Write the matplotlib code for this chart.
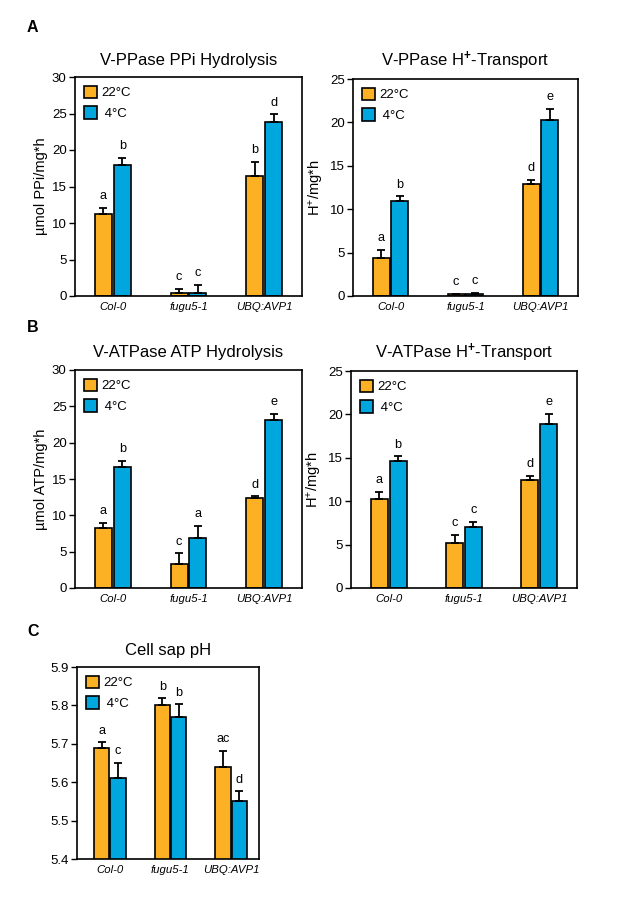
import matplotlib
matplotlib.use("Agg")
import matplotlib.pyplot as plt
import numpy as np
from matplotlib.patches import Patch

plt.rcParams['font.family'] = ['Liberation Sans', 'DejaVu Sans']
plt.rcParams['mathtext.fontset'] = 'custom'
plt.rcParams['mathtext.rm'] = 'Liberation Sans'
plt.rcParams['mathtext.it'] = 'Liberation Sans:italic'
plt.rcParams['mathtext.bf'] = 'Liberation Sans:bold'

categories = ["Col-0", "fugu5-1", "UBQ:AVP1"]
series_names = ["22°C", " 4°C"]

# Panel A left: V-PPase PPi hydrolysis
ppi_22 = [11.3, 0.4, 16.4]
ppi_22_err = [0.8, 0.6, 2.0]
ppi_4 = [17.9, 0.4, 23.8]
ppi_4_err = [1.0, 1.1, 1.1]
ppi_22_let = ["a", "c", "b"]
ppi_4_let = ["b", "c", "d"]

# Panel A right: V-PPase H+ transport
vpp_h_22 = [4.4, 0.2, 12.9]
vpp_h_22_err = [0.9, 0.05, 0.5]
vpp_h_4 = [11.0, 0.27, 20.3]
vpp_h_4_err = [0.5, 0.08, 1.3]
vpp_h_22_let = ["a", "c", "d"]
vpp_h_4_let = ["b", "c", "e"]

# Panel B left: V-ATPase ATP hydrolysis
atp_22 = [8.3, 3.35, 12.45]
atp_22_err = [0.65, 1.45, 0.15]
atp_4 = [16.6, 6.85, 23.1]
atp_4_err = [0.9, 1.75, 0.85]
atp_22_let = ["a", "c", "d"]
atp_4_let = ["b", "a", "e"]

# Panel B right: V-ATPase H+ transport
vat_h_22 = [10.25, 5.2, 12.4]
vat_h_22_err = [0.85, 0.9, 0.5]
vat_h_4 = [14.6, 7.0, 18.9]
vat_h_4_err = [0.6, 0.6, 1.2]
vat_h_22_let = ["a", "c", "d"]
vat_h_4_let = ["b", "c", "e"]

# Panel C: cell sap pH
ph_22 = [5.69, 5.80, 5.64]
ph_22_err = [0.014, 0.018, 0.042]
ph_4 = [5.61, 5.771, 5.55]
ph_4_err = [0.04, 0.032, 0.026]
ph_22_let = ["a", "b", "ac"]
ph_4_let = ["c", "b", "d"]

ORANGE = "#FCB024"
BLUE = "#00A7DF"

fig = plt.figure(figsize=(6.17, 8.99), dpi=100)


def panel(rect, v22, e22, v4, e4, l22, l4, ylim, yticks, title, ylabel,
          xlim=(-0.5, 2.5), width=0.225, off=0.125, ticklabels=None):
    ax = fig.add_axes(rect)
    x = np.arange(len(categories))
    for vals, errs, lets, col, sgn in ((v22, e22, l22, ORANGE, -1),
                                       (v4, e4, l4, BLUE, 1)):
        xs = x + sgn * off
        ax.bar(xs, vals, width=width, color=col, edgecolor='black',
               linewidth=1.2, zorder=2, bottom=0)
        ax.errorbar(xs, vals, yerr=[np.zeros(len(errs)), errs], fmt='none',
                    ecolor='black', elinewidth=1.3, capsize=2.8,
                    capthick=1.3, zorder=3)
        for xi, v, e, t in zip(xs, vals, errs, lets):
            ax.annotate(t, (xi, v + e), xytext=(0, 4), textcoords='offset points',
                        ha='center', va='bottom', fontsize=9.2)
    ax.set_xlim(*xlim)
    ax.set_ylim(*ylim)
    ax.set_yticks(yticks)
    if ticklabels is not None:
        ax.set_yticklabels(ticklabels)
    ax.set_xticks(x)
    ax.set_xticklabels(categories, fontstyle='italic', fontsize=8.2)
    ax.tick_params(axis='x', length=0, pad=4)
    ax.tick_params(axis='y', length=4, width=1, labelsize=9.5, pad=2)
    for s in ax.spines.values():
        s.set_linewidth(1.2)
    ax.set_title(title, fontsize=12, pad=9)
    if ylabel:
        ax.set_ylabel(ylabel, fontsize=10.5, labelpad=3)
    handles = [Patch(facecolor=ORANGE, edgecolor='black', linewidth=1.2),
               Patch(facecolor=BLUE, edgecolor='black', linewidth=1.2)]
    ax.legend(handles, series_names, loc='upper left', frameon=False,
              fontsize=9.5, handlelength=1.05, handleheight=1.05,
              handletextpad=0.3, labelspacing=0.55, borderaxespad=0.35,
              borderpad=0.3)
    return ax


W, H = 617.0, 899.0


def rect(l, t, r, b):
    return [l / W, 1 - b / H, (r - l) / W, (b - t) / H]


panel(rect(75, 77, 302, 296), ppi_22, ppi_22_err, ppi_4, ppi_4_err,
      ppi_22_let, ppi_4_let, (0, 30), [0, 5, 10, 15, 20, 25, 30],
      "V-PPase PPi Hydrolysis", "µmol PPi/mg*h")
panel(rect(353, 79, 578, 296), vpp_h_22, vpp_h_22_err, vpp_h_4, vpp_h_4_err,
      vpp_h_22_let, vpp_h_4_let, (0, 25), [0, 5, 10, 15, 20, 25],
      "V-PPase H$^{\\mathbf{+}}$-Transport", "H$^{+}$/mg*h")
panel(rect(75, 370, 302, 588), atp_22, atp_22_err, atp_4, atp_4_err,
      atp_22_let, atp_4_let, (0, 30), [0, 5, 10, 15, 20, 25, 30],
      "V-ATPase ATP Hydrolysis", "µmol ATP/mg*h")
panel(rect(351, 371, 577, 588), vat_h_22, vat_h_22_err, vat_h_4, vat_h_4_err,
      vat_h_22_let, vat_h_4_let, (0, 25), [0, 5, 10, 15, 20, 25],
      "V-ATPase H$^{\\mathbf{+}}$-Transport", "H$^{+}$/mg*h")
panel(rect(77, 667, 259, 859), ph_22, ph_22_err, ph_4, ph_4_err,
      ph_22_let, ph_4_let, (5.4, 5.9), [5.4, 5.5, 5.6, 5.7, 5.8, 5.9],
      "Cell sap pH", None, xlim=(-0.54, 2.46), width=0.255, off=0.135,
      ticklabels=["5.4", "5.5", "5.6", "5.7", "5.8", "5.9"])

for lab, y in (("A", 28), ("B", 327), ("C", 631)):
    fig.text(27 / W, 1 - y / H, lab, fontsize=11.5, fontweight='bold',
             ha='left', va='center')

fig.savefig("out.png", dpi=100)
